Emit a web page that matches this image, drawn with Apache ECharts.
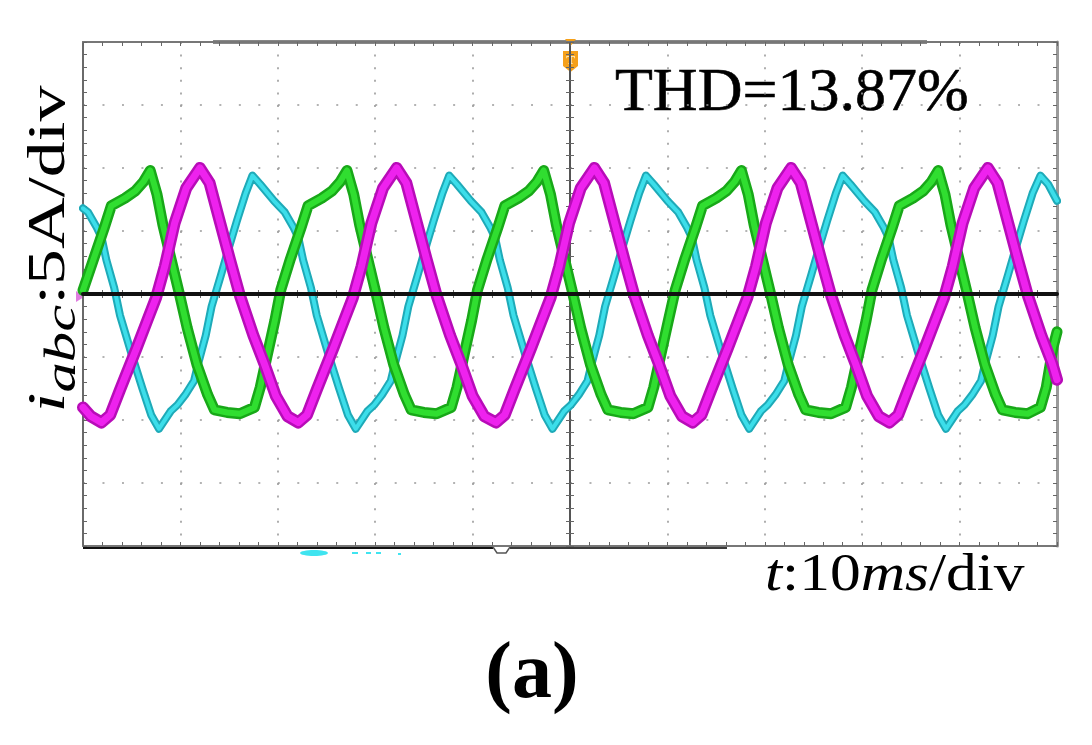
<!DOCTYPE html>
<html>
<head>
<meta charset="utf-8">
<script src="https://cdn.jsdelivr.net/npm/echarts@6/dist/echarts.min.js"></script>
<style>
  html, body { margin: 0; padding: 0; background: #fff; }
  #main { width: 1092px; height: 745px; }
</style>
</head>
<body>
<div id="main"></div>
<script>
// time in ms relative to trigger (10 ms/div), current in A (5 A/div)
const magentaT = [-50,-49.2,-48.1,-47.2,-46.2,-44.5,-43.4,-42.5,-41.6,-40.6,-39.4,-38.0,-37.0,-35.9,-34.9,-33.9,-32.5,-31.4,-30.2,-29.0,
  -27.9,-27.0,-26.0,-24.3,-23.2,-22.3,-21.4,-20.4,-19.2,-17.8,-16.8,-15.7,-14.7,-13.7,-12.3,-11.2,-10.0,-8.8,
  -7.6,-6.7,-5.7,-4.0,-2.9,-2.0,-1.1,-0.1,1.1,2.5,3.5,4.6,5.6,6.6,8.0,9.1,10.3,11.5,
  12.6,13.5,14.5,16.2,17.3,18.2,19.1,20.1,21.3,22.7,23.7,24.8,25.8,26.8,28.2,29.3,30.5,31.7,
  32.8,33.7,34.7,36.4,37.5,38.4,39.3,40.3,41.5,42.9,43.9,45.0,46.0,47.0,48.4,49.5,50];
const magentaI = [-9.0,-9.7,-10.2,-9.6,-7.6,-4.3,-2.1,-0.3,2.2,5.6,8.4,10.0,8.8,5.6,2.7,-0.1,-3.3,-5.5,-8.1,-9.7,
  -10.2,-9.6,-7.6,-4.3,-2.1,-0.3,2.2,5.6,8.4,10.0,8.8,5.6,2.7,-0.1,-3.3,-5.5,-8.1,-9.7,
  -10.2,-9.6,-7.6,-4.3,-2.1,-0.3,2.2,5.6,8.4,10.0,8.8,5.6,2.7,-0.1,-3.3,-5.5,-8.1,-9.7,
  -10.2,-9.6,-7.6,-4.3,-2.1,-0.3,2.2,5.6,8.4,10.0,8.8,5.6,2.7,-0.1,-3.3,-5.5,-8.1,-9.7,
  -10.2,-9.6,-7.6,-4.3,-2.1,-0.3,2.2,5.6,8.4,10.0,8.8,5.6,2.7,-0.1,-3.3,-5.5,-6.8];

const greenT = [-50,-48.9,-47.8,-47.1,-45.7,-44.6,-43.8,-43.1,-42.4,-41.8,-41.0,-40.1,-39.3,-38.3,-37.2,-36.5,-35.2,-33.9,-32.4,-31.8,-31.1,-30.3,
  -29.7,-28.7,-27.6,-26.9,-25.5,-24.4,-23.6,-22.9,-22.2,-21.6,-20.8,-19.9,-19.1,-18.1,-17.0,-16.3,-15.0,-13.7,-12.2,-11.6,-10.9,-10.1,
  -9.5,-8.5,-7.4,-6.7,-5.3,-4.2,-3.4,-2.7,-2.0,-1.4,-0.6,0.3,1.1,2.1,3.2,3.9,5.2,6.5,8.0,8.6,9.3,10.1,
  10.8,11.8,12.9,13.6,15.0,16.1,16.9,17.6,18.3,18.9,19.7,20.6,21.4,22.4,23.5,24.2,25.5,26.8,28.3,28.9,29.6,30.4,
  31.0,32.0,33.1,33.8,35.2,36.3,37.1,37.8,38.5,39.1,39.9,40.8,41.6,42.6,43.7,44.4,45.7,47.0,48.3,48.9,49.6,50];
const greenI = [0.3,2.8,5.3,7.0,7.6,8.2,8.9,9.8,7.9,5.5,2.9,0.0,-2.7,-5.6,-8.0,-9.2,-9.4,-9.5,-9.0,-7.4,-4.9,-2.1,
  0.3,2.8,5.3,7.0,7.6,8.2,8.9,9.8,7.9,5.5,2.9,0.0,-2.7,-5.6,-8.0,-9.2,-9.4,-9.5,-9.0,-7.4,-4.9,-2.1,
  0.3,2.8,5.3,7.0,7.6,8.2,8.9,9.8,7.9,5.5,2.9,0.0,-2.7,-5.6,-8.0,-9.2,-9.4,-9.5,-9.0,-7.4,-4.9,-2.1,
  0.3,2.8,5.3,7.0,7.6,8.2,8.9,9.8,7.9,5.5,2.9,0.0,-2.7,-5.6,-8.0,-9.2,-9.4,-9.5,-9.0,-7.4,-4.9,-2.1,
  0.3,2.8,5.3,7.0,7.6,8.2,8.9,9.8,7.9,5.5,2.9,0.0,-2.7,-5.6,-8.0,-9.2,-9.4,-9.5,-9.0,-7.4,-4.2,-3.0];

const cyanT = [-50,-49.5,-48.6,-48.1,-47.6,-46.8,-46.2,-45.0,-43.9,-43.0,-42.2,-41.0,-40.3,-39.5,-38.6,-38.2,-37.4,-36.8,-35.8,-34.9,-34.2,-33.3,-32.6,
  -31.8,-30.4,-29.3,-28.4,-27.9,-27.4,-26.6,-26.0,-24.8,-23.7,-22.8,-22.0,-20.8,-20.1,-19.3,-18.4,-18.0,-17.2,-16.6,-15.6,-14.7,-14.0,-13.1,-12.4,
  -11.6,-10.2,-9.1,-8.2,-7.7,-7.2,-6.4,-5.8,-4.6,-3.5,-2.6,-1.8,-0.6,0.1,0.9,1.8,2.2,3.0,3.6,4.6,5.5,6.2,7.1,7.8,
  8.6,10.0,11.1,12.0,12.5,13.0,13.8,14.4,15.6,16.7,17.6,18.4,19.6,20.3,21.1,22.0,22.4,23.2,23.8,24.8,25.7,26.4,27.3,28.0,
  28.8,30.2,31.3,32.2,32.7,33.2,34.0,34.6,35.8,36.9,37.8,38.6,39.8,40.5,41.3,42.2,42.6,43.4,44.0,45.0,45.9,46.6,47.5,48.3,49.1,50];
const cyanI = [6.8,6.5,5.3,4.5,2.7,0.5,-1.7,-4.8,-7.5,-9.6,-10.7,-9.3,-8.8,-8.0,-6.9,-5.6,-3.3,-1.0,1.6,4.0,5.8,8.0,9.4,
  8.7,7.4,6.5,5.3,4.5,2.7,0.5,-1.7,-4.8,-7.5,-9.6,-10.7,-9.3,-8.8,-8.0,-6.9,-5.6,-3.3,-1.0,1.6,4.0,5.8,8.0,9.4,
  8.7,7.4,6.5,5.3,4.5,2.7,0.5,-1.7,-4.8,-7.5,-9.6,-10.7,-9.3,-8.8,-8.0,-6.9,-5.6,-3.3,-1.0,1.6,4.0,5.8,8.0,9.4,
  8.7,7.4,6.5,5.3,4.5,2.7,0.5,-1.7,-4.8,-7.5,-9.6,-10.7,-9.3,-8.8,-8.0,-6.9,-5.6,-3.3,-1.0,1.6,4.0,5.8,8.0,9.4,
  8.7,7.4,6.5,5.3,4.5,2.7,0.5,-1.7,-4.8,-7.5,-9.6,-10.7,-9.3,-8.8,-8.0,-6.9,-5.6,-3.3,-1.0,1.6,4.0,5.8,8.0,9.4,8.7,7.4];

const zeroT = [-50, 50];
const zeroI = [0, 0];

const serif = "'Liberation Serif', 'Times New Roman', serif";

const pairs = (ts, vs) => ts.map((t, i) => [t, vs[i]]);

function trace(name, ts, vs, color, width) {
    return {
        name: name,
        type: 'line',
        data: pairs(ts, vs),
        showSymbol: false,
        symbol: 'none',
        silent: true,
        lineStyle: { color: color, width: width, join: 'round', cap: 'round' }
    };
}

// oscilloscope axes: ticks every 1/5 div on frame and centre cross
const tickStyle = { color: '#666', width: 1 };
function frameX(pos, inside, onZero, split) {
    return {
        type: 'value', min: -50, max: 50, interval: 10, position: pos,
        axisLine: { show: true, onZero: onZero, lineStyle: { color: onZero ? '#555' : '#777', width: 2 } },
        axisTick: { show: true, inside: inside, length: 4, lineStyle: tickStyle },
        minorTick: { show: true, splitNumber: 5, length: 4, lineStyle: tickStyle },
        axisLabel: { show: false },
        splitLine: { show: split, lineStyle: { color: '#9a9a9a', width: 1.6, type: [2, 10.6] } }
    };
}
function frameY(pos, inside, onZero, split, color, width) {
    return {
        type: 'value', min: -20, max: 20, interval: 5, position: pos,
        axisLine: { show: true, onZero: onZero, lineStyle: { color: color, width: width } },
        axisTick: { show: true, inside: inside, length: 4, lineStyle: tickStyle },
        minorTick: { show: true, splitNumber: 5, length: 4, lineStyle: tickStyle },
        axisLabel: { show: false },
        splitLine: { show: split, lineStyle: { color: '#9a9a9a', width: 1.6, type: [2, 17.48] } }
    };
}

const chart = echarts.init(document.getElementById('main'), null, { renderer: 'canvas' });

const option = {
    animation: false,
    backgroundColor: '#fff',
    grid: { left: 83, top: 42, right: 35, bottom: 199, show: false },
    xAxis: [
        frameX('bottom', false, true, false),
        frameX('bottom', true, false, true),
        frameX('top', true, false, false),
        frameX('bottom', true, true, false)
    ],
    yAxis: [
        frameY('left', false, true, false, '#555', 2),
        frameY('left', true, false, true, '#6a6a6a', 2),
        frameY('right', true, false, false, '#9a9a9a', 3),
        frameY('left', true, true, false, '#555', 2)
    ],
    series: [
        trace('ic-dark', cyanT, cyanI, '#1eaab8', 8),
        trace('ic', cyanT, cyanI, '#3cdeea', 4),
        trace('ib-dark', greenT, greenI, '#18a818', 11),
        trace('ib', greenT, greenI, '#30de30', 6),
        trace('ia-dark', magentaT, magentaI, '#b80cb8', 12),
        trace('ia', magentaT, magentaI, '#ee22ee', 7),
        trace('zero', zeroT, zeroI, '#111', 4)
    ],
    graphic: [
        // scope status bars on the frame
        { type: 'line', shape: { x1: 213, y1: 42, x2: 927, y2: 42 }, style: { stroke: '#111', lineWidth: 3 }, silent: true },
        { type: 'line', shape: { x1: 83, y1: 547, x2: 493, y2: 547 }, style: { stroke: '#111', lineWidth: 4 }, silent: true },
        { type: 'polyline', shape: { points: [[493, 547], [497, 553], [506, 553], [510, 547]] }, style: { stroke: '#555', lineWidth: 1.5, fill: null }, silent: true },
        { type: 'line', shape: { x1: 510, y1: 547, x2: 727, y2: 547 }, style: { stroke: '#3a3a3a', lineWidth: 4 }, silent: true },
        // trigger marker
        { type: 'polygon', shape: { points: [[565, 39], [576, 39], [570.5, 46]] }, style: { fill: '#f5a01a' }, silent: true },
        { type: 'polygon', shape: { points: [[563, 51], [578, 51], [578, 66], [570.5, 72], [563, 66]] }, style: { fill: '#f5a01a' }, silent: true },
        { type: 'text', x: 570.5, y: 61, style: { text: 'T', fill: '#fff3d0', font: 'bold 13px ' + serif, align: 'center', verticalAlign: 'middle' }, silent: true },
        // channel marker on the left edge
        { type: 'polygon', shape: { points: [[76, 291], [84, 297], [76, 302]] }, style: { fill: '#e07de0' }, silent: true },
        // clipped channel label under the frame
        { type: 'ellipse', shape: { cx: 314, cy: 553, rx: 14, ry: 3 }, style: { fill: '#3fe4f0' }, silent: true },
        { type: 'rect', shape: { x: 352, y: 552, width: 6, height: 2 }, style: { fill: '#3fe4f0' }, silent: true },
        { type: 'rect', shape: { x: 366, y: 552, width: 5, height: 2 }, style: { fill: '#3fe4f0' }, silent: true },
        { type: 'rect', shape: { x: 376, y: 552, width: 5, height: 2 }, style: { fill: '#3fe4f0' }, silent: true },
        { type: 'rect', shape: { x: 398, y: 553, width: 3, height: 2 }, style: { fill: '#3fe4f0' }, silent: true },
        // annotations
        { type: 'text', x: 615, y: 63, silent: true,
          style: { text: 'THD=13.87%', fill: '#000', font: '62px ' + serif, align: 'left', verticalAlign: 'top', stroke: '#000', lineWidth: 0.6 } },
        { type: 'text', x: 765, y: 550, silent: true, scaleX: 1.16,
          style: {
            text: '{it|t}{n|:10}{it|ms}{n|/div}', align: 'left', verticalAlign: 'top',
            rich: {
                it: { fontFamily: serif, fontStyle: 'italic', fontSize: 53, fill: '#000' },
                n: { fontFamily: serif, fontSize: 53, fill: '#000' }
            }
          } },
        { type: 'text', x: 50, y: 249, silent: true, rotation: Math.PI / 2, scaleX: 1.38,
          style: {
            text: '{it|i}{sub|abc}{n|:5A/div}', align: 'center', verticalAlign: 'middle',
            rich: {
                it: { fontFamily: serif, fontStyle: 'italic', fontSize: 52, lineHeight: 70, fill: '#000' },
                sub: { fontFamily: serif, fontStyle: 'italic', fontSize: 44, lineHeight: 44, verticalAlign: 'bottom', fill: '#000' },
                n: { fontFamily: serif, fontSize: 52, lineHeight: 70, fill: '#000' }
            }
          } },
        { type: 'text', x: 532, y: 636, silent: true,
          style: { text: '(a)', fill: '#000', font: 'bold 80px ' + serif, align: 'center', verticalAlign: 'top' } }
    ]
};

chart.setOption(option);
window.addEventListener('resize', chart.resize);
</script>
</body>
</html>
